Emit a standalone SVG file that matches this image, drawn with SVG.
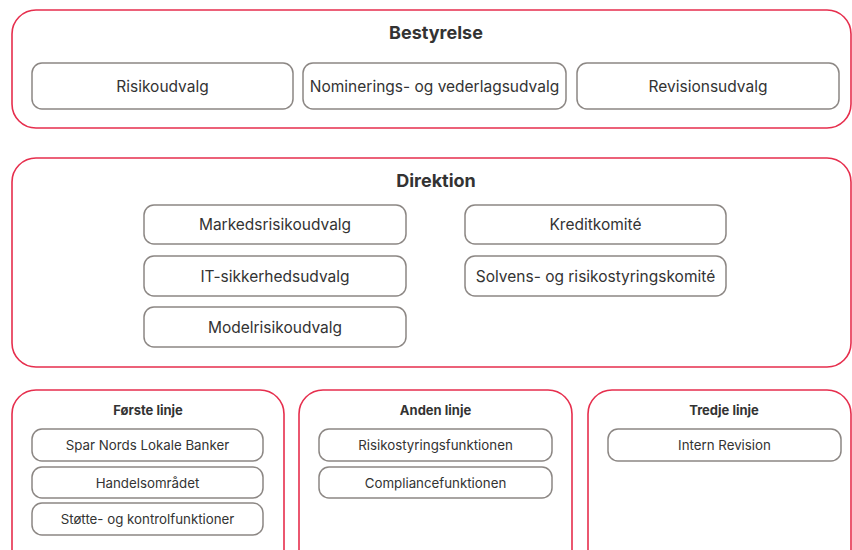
<svg xmlns="http://www.w3.org/2000/svg" width="852" height="550" viewBox="0 0 852 550">
<style>
.outer{fill:#fff;stroke:#e62e4d;stroke-width:1.6}
.inner{fill:#fff;stroke:#8c8784;stroke-width:1.5}
.t{font-family:Inter,"Liberation Sans",sans-serif;fill:#333;text-anchor:middle;dominant-baseline:central}
.h1{font-size:18px;font-weight:700}
.h2{font-size:13px;font-weight:700}
.l{font-size:15.5px}
.s{font-size:13.3px}
</style>
<rect width="852" height="550" fill="#fff"/>
<g id="bestyrelse">
<rect class="outer" x="12" y="10" width="839" height="118" rx="24"/>
<text class="t h1" x="436" y="32">Bestyrelse</text>
</g>
<g id="risikoudvalg"><rect class="inner" x="32" y="63" width="261" height="46" rx="10"/><text class="t l" x="162.5" y="86">Risikoudvalg</text></g>
<g id="nominering"><rect class="inner" x="303" y="63" width="263" height="46" rx="10"/><text class="t l" x="434.5" y="86">Nominerings- og vederlagsudvalg</text></g>
<g id="revisionsudvalg"><rect class="inner" x="577" y="63" width="262" height="46" rx="10"/><text class="t l" x="708" y="86">Revisionsudvalg</text></g>

<g id="direktion">
<rect class="outer" x="12" y="158" width="839" height="209" rx="24"/>
<text class="t h1" x="436" y="180">Direktion</text>
</g>
<g id="markedsrisiko"><rect class="inner" x="144" y="205" width="262" height="39" rx="10"/><text class="t l" x="275" y="224.5">Markedsrisikoudvalg</text></g>
<g id="it"><rect class="inner" x="144" y="256" width="262" height="40" rx="10"/><text class="t l" x="275" y="276">IT-sikkerhedsudvalg</text></g>
<g id="modelrisiko"><rect class="inner" x="144" y="307" width="262" height="40" rx="10"/><text class="t l" x="275" y="327">Modelrisikoudvalg</text></g>
<g id="kredit"><rect class="inner" x="465" y="205" width="261" height="39" rx="10"/><text class="t l" x="595.5" y="224.5">Kreditkomité</text></g>
<g id="solvens"><rect class="inner" x="465" y="256" width="261" height="40" rx="10"/><text class="t l" x="595.5" y="276">Solvens- og risikostyringskomité</text></g>

<g id="forste">
<rect class="outer" x="12" y="390" width="272" height="190" rx="24"/>
<text class="t h2" x="148" y="410">Første linje</text>
</g>
<g id="spar"><rect class="inner" x="32" y="429" width="231" height="32" rx="10"/><text class="t s" x="147.5" y="445">Spar Nords Lokale Banker</text></g>
<g id="handel"><rect class="inner" x="32" y="467" width="231" height="31" rx="10"/><text class="t s" x="147.5" y="482.5">Handelsområdet</text></g>
<g id="stotte"><rect class="inner" x="32" y="503" width="231" height="32" rx="10"/><text class="t s" x="147.5" y="519">Støtte- og kontrolfunktioner</text></g>

<g id="anden">
<rect class="outer" x="299" y="390" width="273" height="190" rx="24"/>
<text class="t h2" x="435.5" y="410">Anden linje</text>
</g>
<g id="risikostyring"><rect class="inner" x="319" y="429" width="233" height="32" rx="10"/><text class="t s" x="435.5" y="445">Risikostyringsfunktionen</text></g>
<g id="compliance"><rect class="inner" x="319" y="467" width="233" height="31" rx="10"/><text class="t s" x="435.5" y="482.5">Compliancefunktionen</text></g>

<g id="tredje">
<rect class="outer" x="588" y="390" width="263" height="190" rx="24"/>
<text class="t h2" x="724" y="410">Tredje linje</text>
</g>
<g id="intern"><rect class="inner" x="608" y="429" width="233" height="32" rx="10"/><text class="t s" x="724.5" y="445">Intern Revision</text></g>
<g id="connectors"></g>
</svg>
